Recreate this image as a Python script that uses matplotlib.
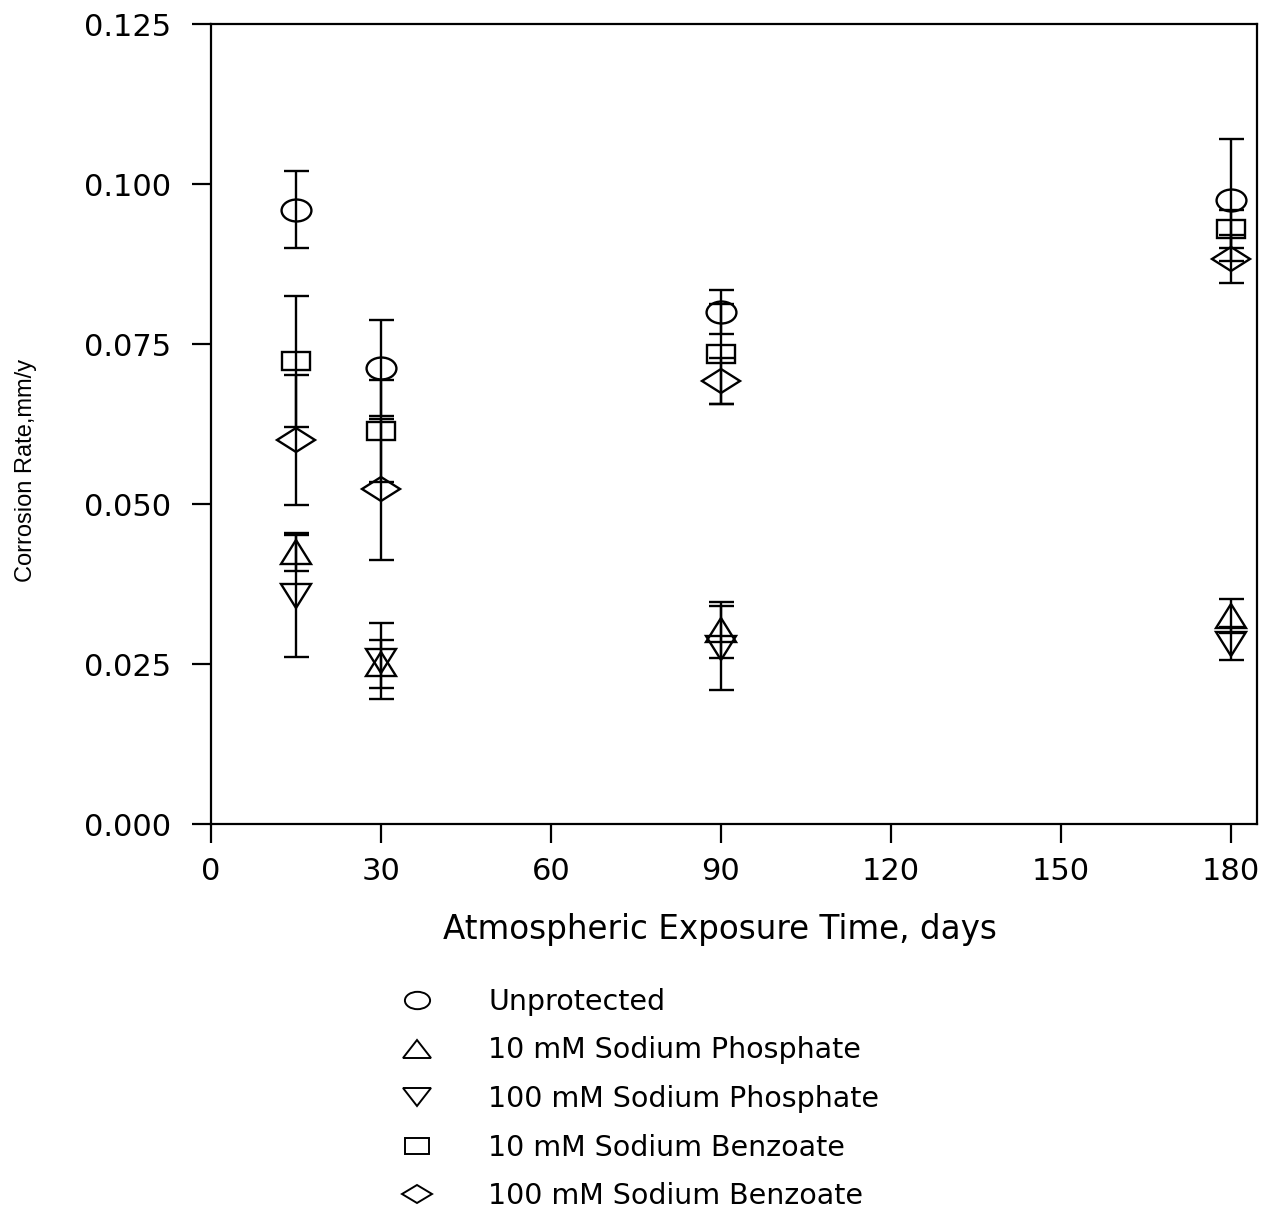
import matplotlib
matplotlib.use("Agg")
import matplotlib.pyplot as plt
from matplotlib.markers import MarkerStyle
from matplotlib.transforms import Affine2D
from matplotlib.lines import Line2D

# data
days = [15, 30, 90, 180]
labels = ["Unprotected", "10 mM Sodium Phosphate", "100 mM Sodium Phosphate",
          "10 mM Sodium Benzoate", "100 mM Sodium Benzoate"]
unprotected = [0.0960, 0.0713, 0.0800, 0.0975]
unprotected_err = [0.0060, 0.0075, 0.0035, 0.0095]
phos_10 = [0.0425, 0.0250, 0.0303, 0.0325]
phos_10_err = [0.0030, 0.0037, 0.0044, 0.0027]
phos_100 = [0.0356, 0.0255, 0.0275, 0.0282]
phos_100_err = [0.0095, 0.0059, 0.0065, 0.0026]
benz_10 = [0.0723, 0.0614, 0.0734, 0.0930]
benz_10_err = [0.0102, 0.0080, 0.0078, 0.0030]
benz_100 = [0.0600, 0.0523, 0.0692, 0.0883]
benz_100_err = [0.0102, 0.0110, 0.0036, 0.0038]

xticks = [0, 30, 60, 90, 120, 150, 180]
yticks = [0.0, 0.025, 0.05, 0.075, 0.1, 0.125]

plt.rcParams['font.family'] = ['DejaVu Sans']

fig = plt.figure(figsize=(12.64, 12.12), dpi=100)
ax = fig.add_axes([211 / 1264, 1 - 824 / 1212, 1046 / 1264, 800 / 1212])


def mk(shape, sx):
    # markers in the scan are stretched sideways
    return MarkerStyle(shape, transform=Affine2D().scale(sx, 1.0))


series = [
    (unprotected, unprotected_err, mk('o', 1.36), 15.8),
    (phos_10, phos_10_err, mk('^', 1.3), 17.0),
    (phos_100, phos_100_err, mk('v', 1.3), 17.0),
    (benz_10, benz_10_err, mk('s', 1.5), 13.0),
    (benz_100, benz_100_err, mk('D', 1.57), 12.0),
]

for vals, errs, m, ms in series:
    ax.errorbar(days, vals, yerr=errs, fmt='none', ecolor='black',
                elinewidth=1.7, capsize=9, capthick=1.7)
    ax.plot(days, vals, linestyle='none', marker=m, markersize=ms,
            markerfacecolor='none', markeredgecolor='black', markeredgewidth=1.7)

ax.set_xlim(0, 184.6)
ax.set_ylim(0, 0.125)
ax.set_xticks(xticks)
ax.set_yticks(yticks)
ax.set_yticklabels(["%.3f" % v for v in yticks])
ax.tick_params(axis='both', direction='out', length=14, width=1.6, labelsize=22)
ax.tick_params(axis='y', pad=15)
ax.tick_params(axis='x', pad=10)
for s in ax.spines.values():
    s.set_linewidth(1.6)

ax.set_xlabel("Atmospheric Exposure Time, days", fontsize=23.5)
ax.xaxis.label.set_va('center')
ax.xaxis.set_label_coords((720 - 211) / 1046, (824 - 930) / 800)
ax.set_ylabel("Corrosion Rate,mm/y", fontsize=17, family=['Liberation Sans', 'DejaVu Sans'])
ax.yaxis.label.set_va('center')
ax.yaxis.set_label_coords((26 - 211) / 1046, (824 - 470) / 800)

# legend under the axes, markers only
leg_markers = [mk('o', 1.45), mk('^', 1.5), mk('v', 1.5), mk('s', 1.55), mk('D', 1.75)]
leg_sizes = [12.5, 13.5, 13.5, 11.0, 9.0]
handles = [Line2D([], [], linestyle='none', marker=m, markersize=s,
                  markerfacecolor='none', markeredgecolor='black', markeredgewidth=1.4)
           for m, s in zip(leg_markers, leg_sizes)]
fig.legend(handles, labels, loc='upper left', bbox_to_anchor=(403 / 1264, 1 - 988 / 1212),
           frameon=False, fontsize=20.5, handlelength=1.0, handletextpad=2.0,
           labelspacing=0.72, borderpad=0, borderaxespad=0)

fig.savefig("out.png", dpi=100)
